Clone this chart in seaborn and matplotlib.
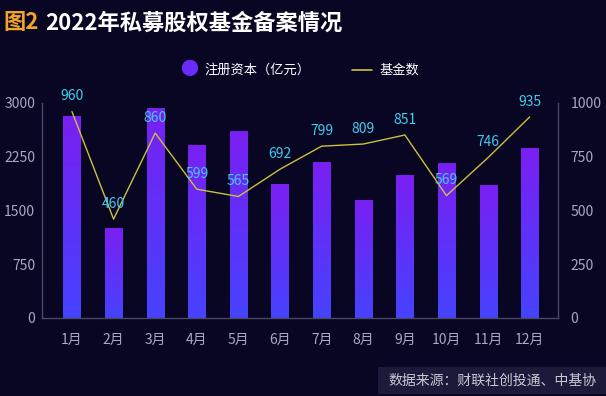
import matplotlib.pyplot as plt
import matplotlib.colors as mcolors
import numpy as np
import pandas as pd
import seaborn as sns

months = ["1月", "2月", "3月", "4月", "5月", "6月", "7月", "8月", "9月", "10月", "11月", "12月"]
capital = [2820, 1250, 2930, 2410, 2610, 1870, 2180, 1650, 1990, 2160, 1860, 2370]
fund_count = [960, 460, 860, 599, 565, 692, 799, 809, 851, 569, 746, 935]
left_ticks = [0, 750, 1500, 2250, 3000]
right_ticks = [0, 250, 500, 750, 1000]

BG = "#090624"
AXIS = "#4a4866"
TICK = "#a9a8c0"
LABEL = "#3fcdf0"
LINE = "#c9c23c"
BAR_TOP = "#7a1ff2"
BAR_BOTTOM = "#4643ff"

sns.set_theme(style="dark")
plt.rcParams["font.family"] = ["Noto Sans CJK SC", "DejaVu Sans"]

df = pd.DataFrame({"month": months, "capital": capital, "count": fund_count})

fig = plt.figure(figsize=(6.06, 3.96), dpi=100, facecolor=BG)
ax = fig.add_axes([0.0693, 0.197, 0.8515, 0.543])
ax.set_facecolor(BG)

sns.barplot(data=df, x="month", y="capital", color=BAR_TOP, width=0.41, ax=ax)

# gradient fill clipped to each bar
cmap = mcolors.LinearSegmentedColormap.from_list("bar", [BAR_BOTTOM, BAR_TOP])
grad = np.linspace(0, 1, 256).reshape(-1, 1)
for p in ax.patches:
    x0, y0 = p.get_x(), p.get_y()
    w, h = p.get_width(), p.get_height()
    im = ax.imshow(grad, cmap=cmap, aspect="auto", origin="lower",
                   extent=[x0, x0 + w, y0, y0 + h], zorder=2)
    im.set_clip_path(p)
    p.set_alpha(0)
ax.set_xlim(-0.72, 11.68)
ax.set_ylim(0, 3000)

ax2 = ax.twinx()
sns.lineplot(data=df, x="month", y="count", sort=False, color=LINE, linewidth=1.0, ax=ax2)
ax2.set_ylim(0, 1000)
for i, v in enumerate(fund_count):
    ax2.annotate(str(v), xy=(i, v), xytext=(0, 6), textcoords="offset points",
                 ha="center", va="bottom", color=LABEL, fontsize=10, zorder=5)

for a in (ax, ax2):
    a.set_xlabel("")
    a.set_ylabel("")
    a.grid(False)
    a.tick_params(length=0, colors=TICK, labelsize=10)
    for s in a.spines.values():
        s.set_visible(False)
ax.set_yticks(left_ticks)
ax2.set_yticks(right_ticks)
ax.tick_params(axis="x", pad=11, labelsize=10)
ax.tick_params(axis="y", pad=5)
ax2.tick_params(axis="y", pad=9)
ax.spines["left"].set_visible(True)
ax.spines["bottom"].set_visible(True)
ax2.spines["right"].set_visible(True)
for s in (ax.spines["left"], ax.spines["bottom"], ax2.spines["right"]):
    s.set_color(AXIS)
    s.set_linewidth(1.0)

# title
fig.text(0.006, 0.942, "图2", color="#f0a526", fontsize=16, fontweight="bold", va="center")
fig.text(0.074, 0.942, "2022年私募股权基金备案情况", color="white", fontsize=16,
         fontweight="bold", va="center")

# legend
fig.text(0.312, 0.823, "●", color="#6a2bff", fontsize=13, va="center", ha="center")
fig.text(0.338, 0.823, "注册资本（亿元）", color="white", fontsize=9.5, va="center")
fig.add_artist(plt.Line2D([0.581, 0.614], [0.823, 0.823], color=LINE, linewidth=1.2,
                          transform=fig.transFigure))
fig.text(0.627, 0.823, "基金数", color="white", fontsize=9.5, va="center")

# source box
fig.patches.append(plt.Rectangle((0.624, 0.005), 0.376, 0.068, transform=fig.transFigure,
                                 facecolor="#1b1a3a", edgecolor="none", zorder=0))
fig.text(0.984, 0.039, "数据来源：财联社创投通、中基协", color="#c8c8d4", fontsize=10,
         ha="right", va="center")

fig.savefig("out.png", dpi=100, facecolor=BG)
